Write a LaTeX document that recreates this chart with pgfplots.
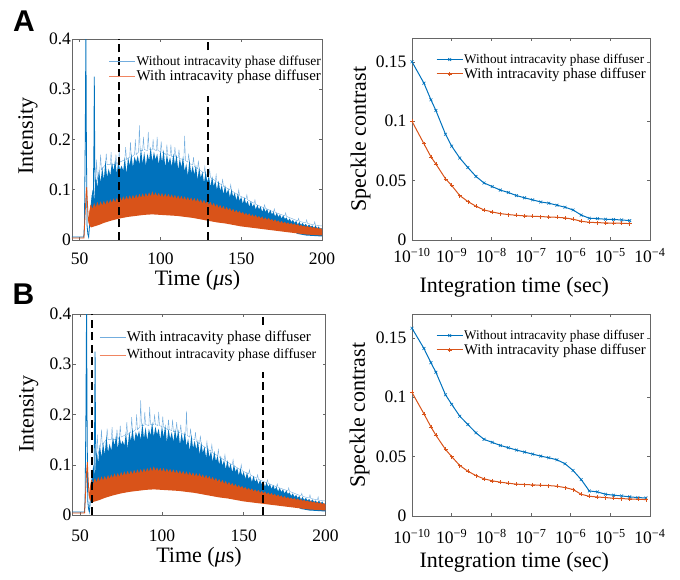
\documentclass[border=0pt]{standalone}
\usepackage{pgfplots}
\pgfplotsset{compat=1.18}
\usepackage{pgfplotstable}
\usepackage{fontspec}
\setmainfont{Liberation Serif}
\newfontfamily\labelfont{Liberation Sans}
\definecolor{mblue}{rgb}{0,0.447,0.741}
\definecolor{morange}{rgb}{0.85,0.325,0.098}
\definecolor{lblue}{rgb}{0.45,0.68,0.87}
\definecolor{lorange}{rgb}{0.94,0.52,0.38}
\definecolor{axgray}{gray}{0.4}

% ---- intensity traces (shared by panels A and B) ----
\pgfplotstableread{
t y
45.3 0.006
52.6 0.006
53.0 0.03
53.5 0.2
53.9 0.42
54.2 0.2
54.6 0.03
55.1 0.012
55.6 0.006
56.2 0.03
57.0 0.065
57.8 0.09
58.4 0.06
58.9 0.2
59.1 0.325
59.4 0.15
59.8 0.09
60.3 0.12
}\blueearly

\pgfplotstableread{
t y
45.3 0.004
52.7 0.004
53.4 0.05
54.0 0.09
54.4 0.105
54.9 0.07
55.4 0.04
55.8 0.035
56.3 0.055
57.0 0.07
}\orangeearly

\pgfplotstableread{
t y
60 0.12
60.5 0.16
61 0.12
62.5 0.14
63 0.17
63.5 0.14
66 0.15
66.5 0.172
67 0.15
69 0.15
69.5 0.175
70 0.15
72 0.15
72.5 0.17
73 0.15
74 0.156
74.5 0.178
75 0.155
78 0.16
78.5 0.185
79 0.16
81 0.165
81.5 0.195
82 0.165
84 0.17
84.5 0.2
85 0.17
86.5 0.175
87 0.228
87.5 0.178
89 0.178
89.5 0.205
90 0.18
92 0.178
92.5 0.215
93 0.18
95 0.18
95.5 0.2
96 0.18
97.5 0.178
98 0.205
98.5 0.178
100 0.176
100.5 0.196
101 0.175
103.5 0.17
104 0.19
104.5 0.17
106 0.168
106.5 0.19
107 0.166
108.5 0.166
109 0.185
109.5 0.165
111 0.164
111.5 0.18
112 0.162
114.5 0.16
115 0.207
115.5 0.158
117 0.155
117.5 0.172
118 0.152
120 0.15
120.5 0.165
121 0.146
123 0.142
123.5 0.158
124 0.14
127 0.133
127.5 0.146
128 0.13
130 0.128
130.5 0.14
131 0.124
134 0.118
134.5 0.13
135 0.115
138 0.11
138.5 0.12
139 0.107
143 0.1
143.5 0.11
144 0.098
148 0.09
148.5 0.1
149 0.088
153 0.082
153.5 0.09
154 0.08
158 0.073
158.5 0.08
159 0.071
164 0.064
164.5 0.07
165 0.063
170 0.056
170.5 0.062
171 0.055
177 0.048
177.5 0.054
178 0.047
185 0.038
185.5 0.043
186 0.037
190 0.034
190.5 0.04
191 0.033
195 0.03
195.5 0.036
196 0.029
200 0.028
}\bluespikes

\pgfplotstableread{
t y
57 0.065
58 0.10
59 0.08
60 0.125
61 0.105
62 0.14
63 0.115
64 0.145
65 0.12
66 0.158
67 0.125
68 0.142
69 0.128
70 0.155
71 0.138
72 0.16
73 0.132
74 0.158
75 0.14
76 0.148
77 0.138
78 0.165
79 0.132
80 0.165
81 0.148
82 0.172
83 0.145
84 0.166
85 0.155
86 0.168
87 0.15
88 0.183
89 0.152
90 0.175
91 0.148
92 0.172
93 0.158
94 0.185
95 0.156
96 0.176
97 0.16
98 0.172
99 0.15
100 0.178
101 0.155
102 0.18
103 0.145
104 0.172
105 0.152
106 0.165
107 0.146
108 0.172
109 0.15
110 0.17
111 0.14
112 0.163
113 0.145
114 0.166
115 0.137
116 0.152
117 0.128
118 0.16
119 0.133
120 0.148
121 0.13
122 0.15
123 0.12
124 0.145
125 0.124
126 0.136
127 0.114
128 0.137
129 0.115
130 0.128
131 0.106
132 0.127
133 0.107
134 0.118
135 0.1
136 0.118
137 0.098
138 0.11
139 0.091
140 0.109
141 0.092
142 0.102
143 0.085
144 0.101
145 0.086
146 0.094
147 0.079
148 0.093
149 0.078
150 0.086
151 0.072
152 0.085
153 0.072
154 0.078
155 0.066
156 0.078
157 0.066
158 0.072
159 0.061
160 0.07
161 0.061
162 0.067
163 0.056
164 0.065
165 0.056
166 0.062
167 0.052
168 0.06
169 0.051
170 0.056
171 0.047
172 0.054
173 0.046
174 0.051
175 0.043
176 0.049
177 0.042
178 0.045
179 0.038
180 0.043
181 0.036
182 0.04
183 0.034
184 0.038
185 0.031
186 0.036
187 0.03
188 0.034
189 0.029
190 0.032
191 0.027
192 0.031
193 0.026
194 0.029
195 0.024
196 0.029
197 0.023
198 0.027
199 0.021
200 0.024
200 0.007
195 0.008
190 0.009
185 0.012
180 0.021
170 0.026
160 0.030
150 0.035
140 0.041
130 0.046
120 0.052
110 0.056
100 0.058
90 0.058
80 0.054
70 0.047
60 0.036
57 0.035
}\blueband

\pgfplotstableread{
t y
55.6 0.04
56 0.055
57 0.07
58 0.062
59 0.074
60 0.065
61 0.076
62 0.067
63 0.077
64 0.069
65 0.078
66 0.07
67 0.08
68 0.072
69 0.081
70 0.074
71 0.083
72 0.075
73 0.084
74 0.076
75 0.086
76 0.078
77 0.087
78 0.079
79 0.088
80 0.08
81 0.089
82 0.081
83 0.09
84 0.082
85 0.091
86 0.083
87 0.092
88 0.084
89 0.093
90 0.085
91 0.094
92 0.086
93 0.095
94 0.087
95 0.097
96 0.088
97 0.095
98 0.087
99 0.094
100 0.086
101 0.094
102 0.085
103 0.093
104 0.085
105 0.092
106 0.084
107 0.091
108 0.083
109 0.09
110 0.082
111 0.089
112 0.081
113 0.088
114 0.08
115 0.087
116 0.079
117 0.086
118 0.078
119 0.085
120 0.077
121 0.084
122 0.076
123 0.083
124 0.075
125 0.081
126 0.073
127 0.08
128 0.072
129 0.078
130 0.07
131 0.076
132 0.068
133 0.074
134 0.066
135 0.072
136 0.064
137 0.07
138 0.062
139 0.068
140 0.06
141 0.066
142 0.059
143 0.064
144 0.057
145 0.062
146 0.055
147 0.06
148 0.054
149 0.058
150 0.052
151 0.056
152 0.05
153 0.054
154 0.049
155 0.053
156 0.047
157 0.051
158 0.046
159 0.05
160 0.044
161 0.048
162 0.043
163 0.047
164 0.041
165 0.045
166 0.04
167 0.044
168 0.039
169 0.042
170 0.037
171 0.041
172 0.036
173 0.039
174 0.034
175 0.038
176 0.033
177 0.036
178 0.032
179 0.035
180 0.031
181 0.034
182 0.03
183 0.033
184 0.029
185 0.032
186 0.028
187 0.03
188 0.027
189 0.029
190 0.026
191 0.028
192 0.025
193 0.027
194 0.024
195 0.026
196 0.023
197 0.025
198 0.022
199 0.024
200 0.021
200 0.009
195 0.010
190 0.011
185 0.013
180 0.015
175 0.017
170 0.019
165 0.021
160 0.023
155 0.025
150 0.027
145 0.03
140 0.033
135 0.035
130 0.038
125 0.041
120 0.044
115 0.046
110 0.048
105 0.049
100 0.05
95 0.051
90 0.05
85 0.048
80 0.046
75 0.043
70 0.039
65 0.034
62 0.03
60 0.028
57 0.025
56 0.03
55.6 0.035
}\orangeband

% ---- speckle contrast ----
\pgfplotstableread{
x blue orange
1e-10 0.150 0.0999
2e-10 0.132 0.081
3e-10 0.118 0.070
4e-10 0.109 0.064
7e-10 0.089 0.0515
1e-9 0.079 0.0459
1.6e-9 0.069 0.0374
2.56e-9 0.061 0.0324
4.1e-9 0.0535 0.0284
6.55e-9 0.048 0.0253
1.05e-8 0.045 0.0236
1.68e-8 0.042 0.0222
2.68e-8 0.040 0.0214
4.29e-8 0.0374 0.0208
6.87e-8 0.0355 0.0203
1.1e-7 0.0338 0.0200
1.76e-7 0.032 0.0197
2.81e-7 0.031 0.0194
4.5e-7 0.0293 0.0191
7.2e-7 0.0276 0.0186
1.15e-6 0.0253 0.0175
1.84e-6 0.021 0.0158
2.95e-6 0.0183 0.0149
4.72e-6 0.018 0.0146
7.56e-6 0.0175 0.0144
1.21e-5 0.0172 0.0141
1.93e-5 0.0169 0.0141
3.09e-5 0.0163 0.0138
}\speckleA

\pgfplotstableread{
x blue orange
1e-10 0.158 0.104
2e-10 0.141 0.086
3e-10 0.129 0.075
4e-10 0.121 0.068
7e-10 0.102 0.056
1e-9 0.094 0.050
1.6e-9 0.084 0.0425
2.56e-9 0.077 0.0377
4.1e-9 0.070 0.034
6.55e-9 0.0645 0.0313
1.05e-8 0.062 0.0296
1.68e-8 0.0594 0.0285
2.68e-8 0.0575 0.0276
4.29e-8 0.0555 0.0268
6.87e-8 0.0538 0.0265
1.1e-7 0.0521 0.0262
1.76e-7 0.0504 0.0259
2.81e-7 0.049 0.0256
4.5e-7 0.0473 0.0251
7.2e-7 0.044 0.0239
1.15e-6 0.0383 0.0223
1.84e-6 0.0307 0.0183
2.95e-6 0.0211 0.0166
4.72e-6 0.0203 0.016
7.56e-6 0.0183 0.0155
1.21e-5 0.0175 0.0149
1.93e-5 0.0169 0.0146
3.09e-5 0.0161 0.0144
4.95e-5 0.0155 0.0141
7.92e-5 0.0152 0.0138
}\speckleB

\pgfplotsset{
  base/.style={
    scale only axis,
    axis line style={axgray, line width=0.5pt},
    tick style={axgray, line width=0.5pt},
    major tick length=3pt, minor tick length=1.7pt,
    tick align=inside,
    ticklabel style={font=\rmfamily\fontsize{17.5}{17.5}\selectfont},
    label style={font=\fontsize{22}{22}\selectfont},
    /pgf/number format/assume math mode=true,
    legend style={draw=none, fill=none, inner sep=0pt, at={(axis description cs:1,1)}, anchor=north east,
      nodes={inner sep=1pt}, row sep=1pt},
    legend cell align=left,
    legend image code/.code={\draw[mark repeat=2,mark phase=2,##1] plot coordinates {(0pt,0pt) (13pt,0pt) (26pt,0pt)};},
  },
  timeaxis/.style={base,
    xmin=45.3, xmax=200, ymin=0, ymax=0.4,
    xtick={50,100,150,200}, xticklabels={\mbox{50},\mbox{100},\mbox{150},\mbox{200}},
    ytick={0,0.1,0.2,0.3,0.4},
    yticklabels={\mbox{0},\mbox{0.1},\mbox{0.2},\mbox{0.3},\mbox{0.4}},
    yticklabel style={xshift=2.5pt},
    xlabel={Time (\textit{μ}s)}, ylabel={Intensity},
  },
  specaxis/.style={base,
    xmin=1e-10, xmax=1e-4, ymin=0, ymax=0.17,
    xtick={1e-10,1e-9,1e-8,1e-7,1e-6,1e-5,1e-4},
    xticklabels={\mbox{10\textsuperscript{−10}},\mbox{10\textsuperscript{−9}},\mbox{10\textsuperscript{−8}},\mbox{10\textsuperscript{−7}},\mbox{10\textsuperscript{−6}},\mbox{10\textsuperscript{−5}},\mbox{10\textsuperscript{−4}}},
    ytick={0,0.05,0.1,0.15}, yticklabels={\mbox{0},\mbox{0.05},\mbox{0.1},\mbox{0.15}},
    yticklabel style={xshift=-2pt},
    xlabel={Integration time (sec)}, ylabel={Speckle contrast},
  },
  dashln/.style={black, line width=1.8pt, dash pattern=on 8pt off 4.5pt, forget plot},
}

\begin{document}
\begin{tikzpicture}
\useasboundingbox (0pt,0pt) rectangle (680pt,579pt);

% ================= A left =================
\begin{axis}[timeaxis, at={(72pt,339pt)}, anchor=south west, width=250pt, height=201pt,
  xticklabel style={yshift=-9pt},
  xlabel style={at={(axis description cs:0.502,-0.199)}, anchor=center},
  ylabel style={at={(axis description cs:-0.176,0.517)}, anchor=center},
  legend style={xshift=0pt, yshift=-16pt}]
\addplot[lblue, line width=0.4pt, forget plot] table[x=t,y=y] {\bluespikes};
\addplot[fill=mblue, draw=none, forget plot] table[x=t,y=y] {\blueband};
\addplot[mblue, line width=0.8pt, forget plot] table[x=t,y=y] {\blueearly};
\addplot[fill=morange, draw=none, forget plot] table[x=t,y=y] {\orangeband};
\addplot[morange, line width=0.8pt, forget plot] table[x=t,y=y] {\orangeearly};
\addplot[dashln] coordinates {(74.6,0) (74.6,0.4)};
\addplot[dashln] coordinates {(129.6,0) (129.6,0.287)};
\addplot[dashln] coordinates {(129.6,0.378) (129.6,0.4)};
\addlegendimage{lblue, line width=0.6pt}
\addlegendentry{\fontsize{13.5}{14}\selectfont Without intracavity phase diffuser}
\addlegendimage{lorange, line width=0.6pt}
\addlegendentry{\fontsize{14.9}{15}\selectfont With intracavity phase diffuser}
\end{axis}

% ================= A right =================
\begin{axis}[xmode=log, log basis x=10, specaxis, at={(412pt,339pt)}, anchor=south west, width=238pt, height=202pt,
  xticklabel style={yshift=-4.5pt},
  xlabel style={at={(axis description cs:0.43,-0.235)}, anchor=center},
  ylabel style={at={(axis description cs:-0.216,0.5)}, anchor=center},
  legend style={xshift=-3pt, yshift=-15pt}]
\addplot[mblue, line width=1pt, mark=x, mark size=2pt, mark options={solid, line width=0.6pt}] table[x=x,y=blue] {\speckleA};
\addlegendentry{\fontsize{13.2}{14}\selectfont Without intracavity phase diffuser}
\addplot[morange, line width=1pt, mark=+, mark size=2pt, mark options={solid, line width=0.6pt}] table[x=x,y=orange] {\speckleA};
\addlegendentry{\fontsize{14.7}{15}\selectfont With intracavity phase diffuser}
\end{axis}

% ================= B left =================
\begin{axis}[timeaxis, at={(72.5pt,64pt)}, anchor=south west, width=253pt, height=201pt,
  xticklabel style={yshift=-11pt},
  xlabel style={at={(axis description cs:0.5,-0.209)}, anchor=center},
  ylabel style={at={(axis description cs:-0.173,0.5)}, anchor=center},
  legend style={xshift=-8pt, yshift=-16pt, row sep=4pt}]
\addplot[lblue, line width=0.4pt, forget plot] table[x=t,y=y] {\bluespikes};
\addplot[fill=mblue, draw=none, forget plot] table[x=t,y=y] {\blueband};
\addplot[mblue, line width=0.8pt, forget plot] table[x=t,y=y] {\blueearly};
\addplot[fill=morange, draw=none, forget plot] table[x=t,y=y] {\orangeband};
\addplot[morange, line width=0.8pt, forget plot] table[x=t,y=y] {\orangeearly};
\addplot[dashln] coordinates {(57.2,0) (57.2,0.4)};
\addplot[dashln] coordinates {(161.6,0) (161.6,0.285)};
\addplot[dashln] coordinates {(161.6,0.379) (161.6,0.4)};
\addlegendimage{lblue, line width=0.6pt}
\addlegendentry{\fontsize{14.9}{15}\selectfont With intracavity phase diffuser}
\addlegendimage{lorange, line width=0.6pt}
\addlegendentry{\fontsize{13.9}{14}\selectfont Without intracavity phase diffuser}
\end{axis}

% ================= B right =================
\begin{axis}[xmode=log, log basis x=10, specaxis, at={(412pt,63pt)}, anchor=south west, width=238pt, height=202pt,
  xticklabel style={yshift=-10pt},
  xlabel style={at={(axis description cs:0.43,-0.228)}, anchor=center},
  ylabel style={at={(axis description cs:-0.22,0.5)}, anchor=center},
  legend style={xshift=-3pt, yshift=-15pt}]
\addplot[mblue, line width=1pt, mark=x, mark size=2pt, mark options={solid, line width=0.6pt}] table[x=x,y=blue] {\speckleB};
\addlegendentry{\fontsize{13.2}{14}\selectfont Without intracavity phase diffuser}
\addplot[morange, line width=1pt, mark=+, mark size=2pt, mark options={solid, line width=0.6pt}] table[x=x,y=orange] {\speckleB};
\addlegendentry{\fontsize{14.7}{15}\selectfont With intracavity phase diffuser}
\end{axis}

\node[font=\fontsize{30}{30}\selectfont\labelfont\bfseries] at (24pt,558pt) {A};
\node[font=\fontsize{30}{30}\selectfont\labelfont\bfseries] at (23.5pt,285pt) {B};
\end{tikzpicture}
\end{document}
